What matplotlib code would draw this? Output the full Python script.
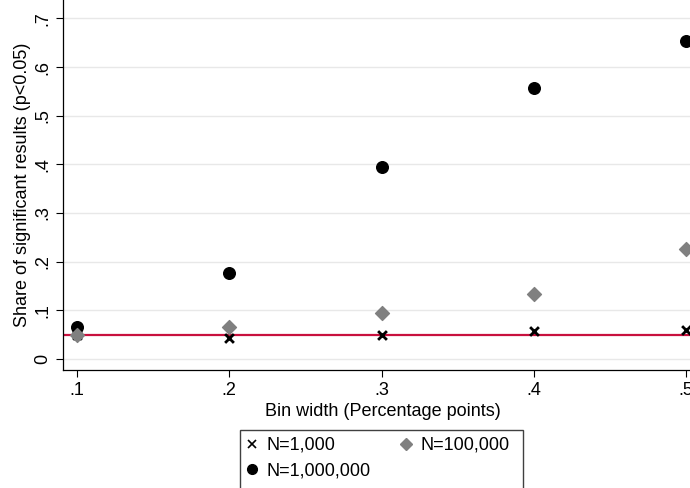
import matplotlib.pyplot as plt
from matplotlib.patches import Rectangle
from matplotlib.lines import Line2D

plt.rcParams['font.family'] = ['Liberation Sans', 'DejaVu Sans']

# data
bin_width = [0.1, 0.2, 0.3, 0.4, 0.5]
n_1k = [0.050, 0.043, 0.049, 0.057, 0.060]
n_100k = [0.049, 0.066, 0.094, 0.134, 0.227]
n_1m = [0.065, 0.177, 0.394, 0.556, 0.654]
alpha_level = 0.05
x_ticks = [0.1, 0.2, 0.3, 0.4, 0.5]
x_labels = ['.1', '.2', '.3', '.4', '.5']
y_ticks = [0, 0.1, 0.2, 0.3, 0.4, 0.5, 0.6, 0.7]
y_labels = ['0', '.1', '.2', '.3', '.4', '.5', '.6', '.7']

W, H = 690, 488
fig = plt.figure(figsize=(W / 100, H / 100), dpi=100)

# axes placed in pixels: left spine 63, bottom spine 370, right edge runs past figure
left, bottom, right, top = 63, H - 370, 702, H
ax = fig.add_axes([left / W, bottom / H, (right - left) / W, (top - bottom) / H])
ax.set_xlim(0.0908, 0.5105)
ax.set_ylim(-0.0226, 0.7377)

ax.axhline(alpha_level, color='#c8103e', lw=1.6, zorder=2)
ax.scatter(bin_width, n_1k, marker='x', s=40, color='black', linewidths=2, zorder=3)
ax.scatter(bin_width, n_1m, marker='o', s=70, color='black', zorder=4)
ax.scatter(bin_width, n_100k, marker='D', s=50, color='#808080', zorder=5)

ax.set_xticks(x_ticks, x_labels)
ax.set_yticks(y_ticks, y_labels)
ax.tick_params(axis='y', labelrotation=90, length=5, width=0.8, labelsize=13, colors='black')
ax.tick_params(axis='x', length=5, width=0.8, labelsize=13)
for lab in ax.get_yticklabels():
    lab.set_va('center')
ax.grid(axis='y', color='#e8e8e8', lw=1)
ax.set_axisbelow(True)
for s in ['top', 'right']:
    ax.spines[s].set_visible(False)
ax.spines['left'].set_linewidth(0.9)
ax.spines['bottom'].set_linewidth(0.9)

ax.set_xlabel('Bin width (Percentage points)', fontsize=13, labelpad=3)
ax.set_ylabel('Share of significant results (p<0.05)', fontsize=13, labelpad=2)

# legend box, clipped at the bottom like the original
fig.patches.append(Rectangle((240 / W, -20 / H), (523 - 240) / W, (H - 430 + 20) / H,
                             transform=fig.transFigure, fill=False,
                             edgecolor='#404040', lw=1))
handles = [
    Line2D([], [], ls='none', marker='x', ms=6, mew=1.2, color='black'),
    Line2D([], [], ls='none', marker='o', ms=7, color='black'),
    Line2D([], [], ls='none', marker='D', ms=6, color='#808080'),
]
labels = ['N=1,000', 'N=1,000,000', 'N=100,000']  # column-wise fill
leg = fig.legend(handles, labels, ncol=2,
                 loc='upper left', bbox_to_anchor=(243 / W, (H - 437) / H),
                 frameon=False, fontsize=13, handletextpad=0.3,
                 columnspacing=1.45, labelspacing=0.45,
                 handlelength=1.0, borderaxespad=0, borderpad=0)

fig.savefig('out.png', dpi=100)
